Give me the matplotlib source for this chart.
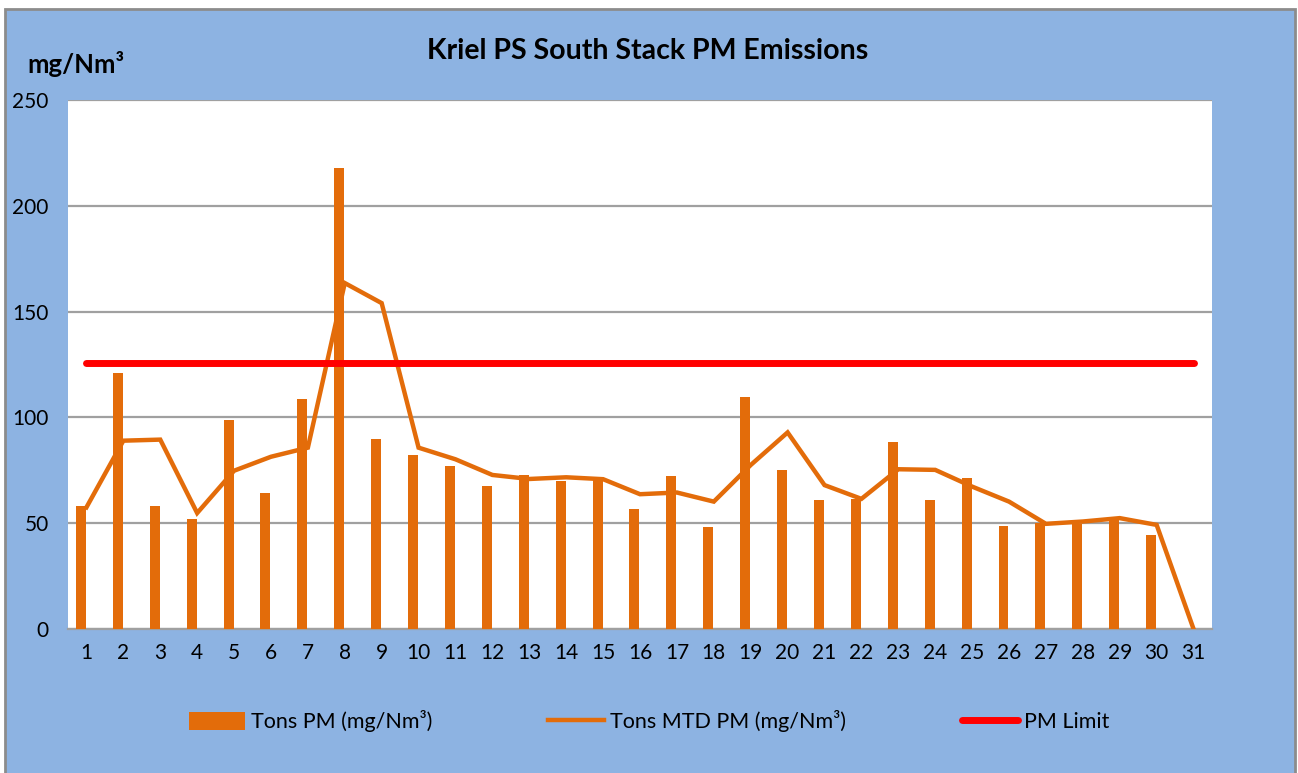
import matplotlib
matplotlib.use("Agg")
import matplotlib.pyplot as plt
from matplotlib.patches import Rectangle
import numpy as np

days = list(range(1, 32))
tons_pm = [58, 121, 58, 52, 98.8, 64.5, 108.7, 218, 89.7, 82.2, 77, 67.8, 73, 69.8, 70.2,
           56.8, 72.2, 48.3, 109.6, 75, 61, 61.5, 88.2, 60.8, 71.2, 48.6, 50, 49.5, 52.8, 44.2, 0]
tons_mtd = [57.5, 89, 89.5, 54.8, 74.8, 81.4, 85.7, 163.5, 154, 85.7, 80.2, 72.8, 70.9, 71.7, 70.8,
            63.7, 64.5, 60.2, 77.5, 92.9, 68, 61.5, 75.5, 75.2, 67.3, 60.2, 49.7, 50.8, 52.4, 49.2, 0]
pm_limit = [125.5] * 31
y_ticks = [0, 50, 100, 150, 200, 250]

ORANGE = "#E36C0A"
RED = "#FF0000"
BLUE = "#8DB3E2"
FONT = "Lato"

W, H = 1298, 773
fig = plt.figure(figsize=(W / 100, H / 100), dpi=100, facecolor="white")
bg = Rectangle((5 / W, -0.05), 1290 / W, 1.05 - 9 / H, transform=fig.transFigure,
               facecolor=BLUE, edgecolor="#8C8C8C", linewidth=2, zorder=-10)
fig.patches.append(bg)

ax = fig.add_axes([68 / W, 1 - 629 / H, (1212 - 68) / W, (629 - 100) / H])
ax.set_zorder(1)
ax.set_facecolor("white")
x = np.array(days, dtype=float)
b = ax.bar(x - 0.15, tons_pm, width=0.27, color=ORANGE, zorder=3, label="Tons PM (mg/Nm³)")
l1, = ax.plot(x, tons_mtd, color=ORANGE, linewidth=3.2, zorder=4, label="Tons MTD PM (mg/Nm³)",
              solid_joinstyle="miter")
l2, = ax.plot(x, pm_limit, color=RED, linewidth=5, zorder=5, solid_capstyle="round", label="PM Limit")

ax.set_xlim(0.5, 31.5)
ax.set_ylim(0, 250)
ax.set_yticks(y_ticks)
ax.set_xticks(days)
ax.set_xticklabels([str(d) for d in days])
ax.yaxis.grid(True, color="#A0A0A0", linewidth=1.6, zorder=1)
ax.set_axisbelow(True)
for s in ["left", "right", "top"]:
    ax.spines[s].set_visible(False)
ax.spines["bottom"].set_color("#A0A0A0")
ax.spines["bottom"].set_linewidth(1.6)
ax.tick_params(axis="both", length=0, labelsize=15, colors="black")
ax.tick_params(axis="y", pad=14)
ax.tick_params(axis="x", pad=10)
for lab in ax.get_xticklabels() + ax.get_yticklabels():
    lab.set_fontfamily(FONT)

fig.text(648 / W, 1 - 51 / H, "Kriel PS South Stack PM Emissions", ha="center", va="center",
         fontsize=20.5, fontweight="bold", family=FONT)
fig.text(27 / W, 1 - 64 / H, "mg/Nm³", ha="left", va="center",
         fontsize=18.5, fontweight="bold", family=FONT)

fs = 15.5
px = fs * 1.389
leg = fig.legend([b, l1, l2], ["Tons PM (mg/Nm³)", "Tons MTD PM (mg/Nm³)", "PM Limit"],
                 loc="center", bbox_to_anchor=(649 / W, 1 - 721 / H), ncol=3,
                 frameon=False, prop={"family": FONT, "size": fs},
                 handlelength=56 / px, handletextpad=6 / px,
                 columnspacing=116 / px, handleheight=0.9)
fig.savefig("out.png", dpi=100, facecolor=fig.get_facecolor())
